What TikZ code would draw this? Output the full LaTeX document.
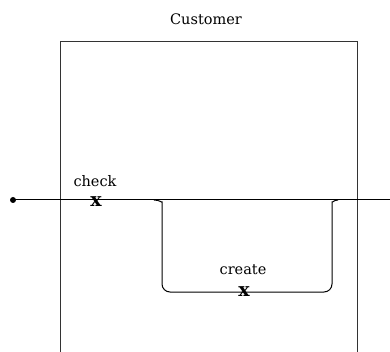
\documentclass[tikz,border=0pt]{standalone}
\usepackage{fontspec}
\setmainfont{DejaVu Serif}
\begin{document}
\begin{tikzpicture}[x=1pt,y=-1pt,
  wire/.style={line width=1pt,black},
  lane/.style={line width=1pt,black!80},
  lbl/.style={font=\fontsize{14.5}{16}\selectfont,inner sep=0pt},
  cross/.style={font=\bfseries\fontsize{19}{19}\selectfont,inner sep=0pt}]
\useasboundingbox (0,0) rectangle (390,352);
% swimlane
\draw[lane] (60,352) -- (60,42) -- (357,42) -- (357,352);
\node[lbl] (title) at (206,19) {Customer};
% main line
\coordinate (end) at (390,200);
\coordinate (split) at (154,200);
\coordinate (join) at (338,200);
\fill (13,200) circle (3) coordinate (start);
\draw[wire] (start) -- (end);
% detour
\draw[wire,rounded corners=8] (split) .. controls (160,200) and (162,203) .. (162,210)
  -- (162,292) -- (332,292) -- (332,210) .. controls (332,203) and (334,200) .. (join);
% activities
\node[cross] (checkx) at (96,202) {x};
\node[lbl] (check) at (95,181) {check};
\node[cross] (createx) at (244,292) {x};
\node[lbl] (create) at (243,270) {create};
\end{tikzpicture}
\end{document}
